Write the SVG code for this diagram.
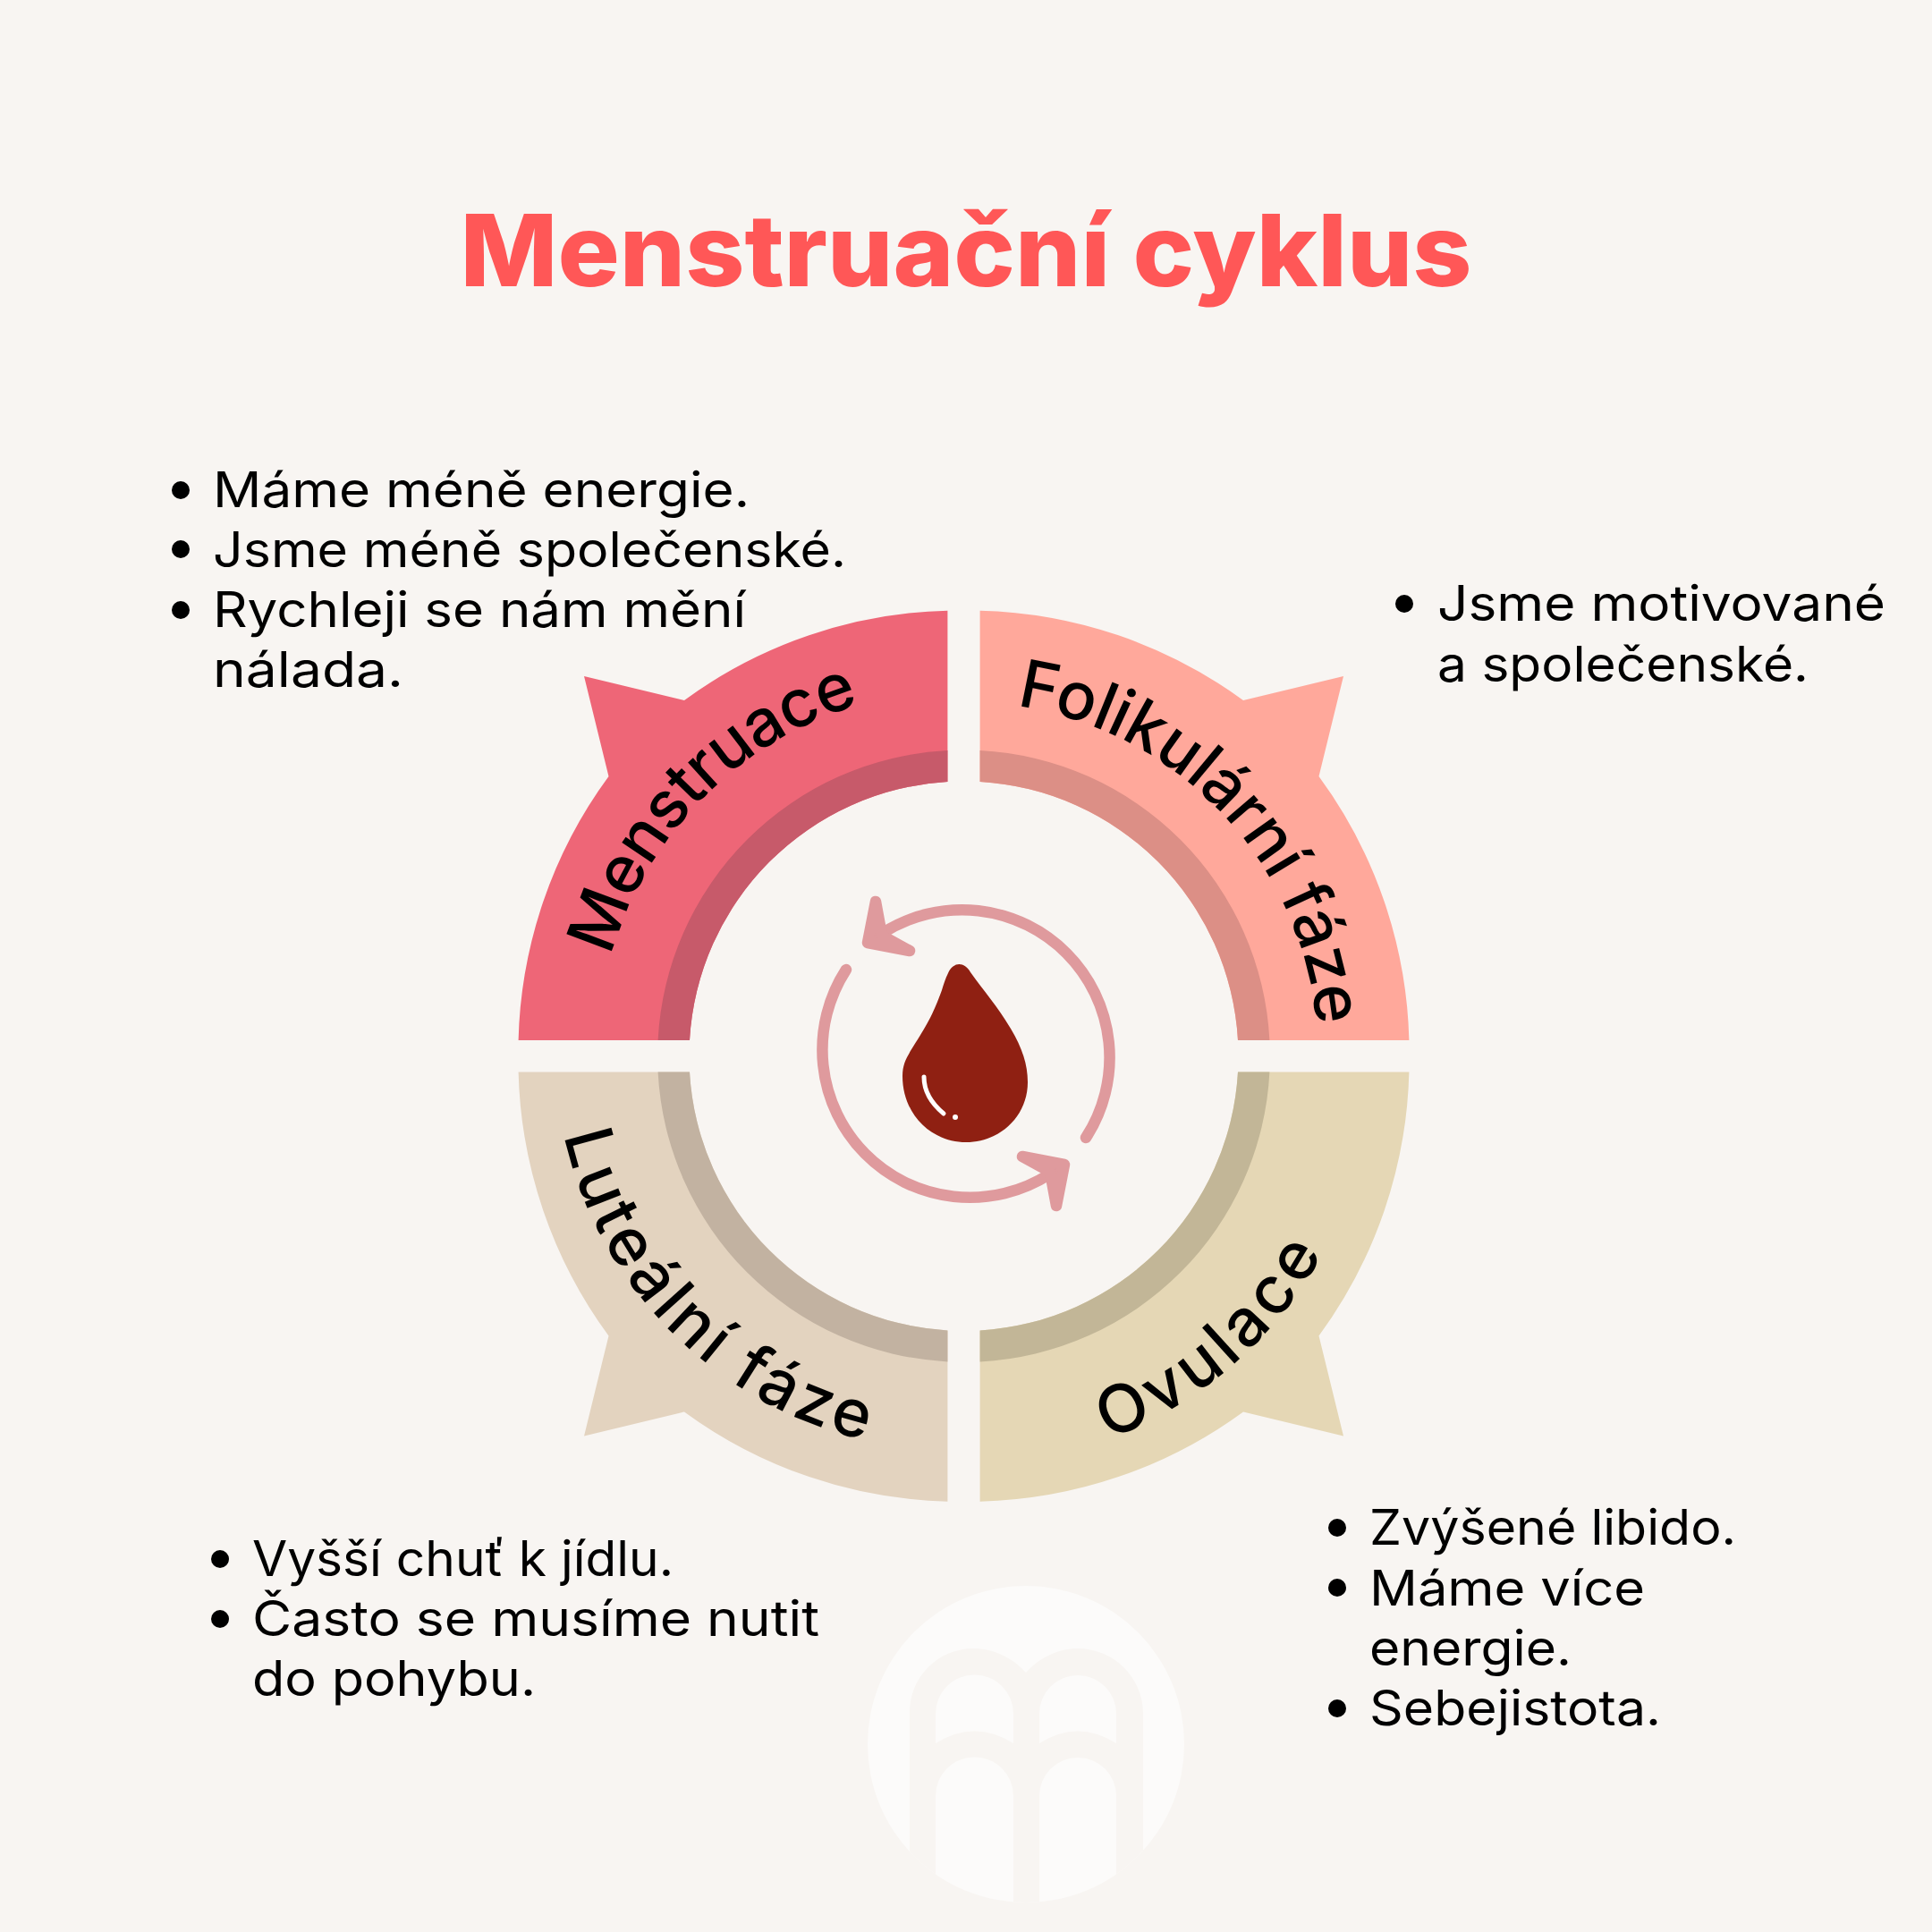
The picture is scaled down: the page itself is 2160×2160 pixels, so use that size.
<svg xmlns="http://www.w3.org/2000/svg" width="2160" height="2160" viewBox="0 0 2160 2160">
<style>
.b{font-family:"Inter","Open Sans","Liberation Sans",sans-serif;font-size:55px;fill:#000}
.l{font-family:"Inter","Open Sans","Liberation Sans",sans-serif;font-size:74px;font-weight:500;fill:#000}
.t{font-family:"Inter","Open Sans","Liberation Sans",sans-serif;font-size:112px;font-weight:800;fill:#FF5757}
</style>
<defs>
<path id="pm" d="M667.5 1180.7 A410 410 0 0 1 1077.5 770.7"/>
<path id="pf" d="M1077.5 784.7 A396 396 0 0 1 1473.5 1180.7"/>
<path id="po" d="M1077.5 1638.7 A458 458 0 0 0 1535.5 1180.7"/>
<path id="pl" d="M620 1172 A450 450 0 0 0 1070 1622"/>
<path id="seg" d="M1059.4 682.7 A520 520 0 0 0 765 783 L653 756 L680.5 868 A520 520 0 0 0 579.6 1163 H771 A307 307 0 0 1 1059.4 874 Z"/>
<path id="ring" d="M1059.4 839 A342 342 0 0 0 735.6 1163 H771 A307 307 0 0 1 1059.4 874 Z"/>
<g id="arr">
<path fill="none" d="M987 1043 A165 165 0 0 1 1214 1272"/>
<path fill="#DF9A9D" d="M979 1008 L970 1054 L1017 1063 L986 1046 Z"/>
</g>
<clipPath id="cc"><circle cx="1147" cy="1950" r="177"/></clipPath>
</defs>
<rect width="2160" height="2160" fill="#F8F5F2"/>
<g id="logo">
<circle cx="1147" cy="1950" r="177" fill="#FCFBFA"/>
<g clip-path="url(#cc)">
<path fill="#F8F5F2" d="M1017 2140 V1915 A71 71 0 0 1 1088 1843 C1110 1843 1132 1853 1147 1870 C1162 1853 1184 1843 1205 1843 A73 73 0 0 1 1278 1915 V2140 Z"/>
<g fill="#FCFBFA">
<path d="M1046 1916 A43.5 43.5 0 0 1 1133 1916 V1949 Q1089.5 1922 1046 1949 Z"/>
<path d="M1162 1916 A43 43 0 0 1 1248 1916 V1949 Q1205 1922 1162 1949 Z"/>
<path d="M1046 2008 A43.5 43.5 0 0 1 1133 2008 V2140 H1046 Z"/>
<path d="M1162 2008 A43 43 0 0 1 1248 2008 V2140 H1162 Z"/>
</g>
</g>
</g>
<g id="title"><text class="t" x="1080" y="320" text-anchor="middle" textLength="1131" lengthAdjust="spacingAndGlyphs">Menstruační cyklus</text></g>
<g id="menstruace">
<use href="#seg" fill="#EE6677"/>
<use href="#ring" fill="#C75A6A"/>
<text class="l" letter-spacing="-1"><textPath href="#pm" startOffset="113">Menstruace</textPath></text>
</g>
<g id="folikularni">
<use href="#seg" fill="#FFA89B" transform="matrix(-1 0 0 1 2155 0)"/>
<use href="#ring" fill="#DC8F86" transform="matrix(-1 0 0 1 2155 0)"/>
<text class="l" letter-spacing="-0.4"><textPath href="#pf" startOffset="59">Folikulární fáze</textPath></text>
</g>
<g id="ovulace">
<use href="#seg" fill="#E5D7B5" transform="matrix(-1 0 0 -1 2155 2361.4)"/>
<use href="#ring" fill="#C2B697" transform="matrix(-1 0 0 -1 2155 2361.4)"/>
<text class="l" letter-spacing="5.5"><textPath href="#po" startOffset="165">Ovulace</textPath></text>
</g>
<g id="lutealni">
<use href="#seg" fill="#E3D3BF" transform="matrix(1 0 0 -1 0 2361.4)"/>
<use href="#ring" fill="#C2B2A1" transform="matrix(1 0 0 -1 0 2361.4)"/>
<text class="l" letter-spacing="4.5"><textPath href="#pl" startOffset="98">Luteální fáze</textPath></text>
</g>
<g id="cycle" stroke="#DF9A9D" stroke-width="12.5" stroke-linecap="round" stroke-linejoin="round">
<use href="#arr"/>
<use href="#arr" transform="rotate(180 1080 1178)"/>
</g>
<g id="drop">
<path fill="#8F2012" d="M1060 1088 C1066 1075 1078 1075 1085 1087 C1100 1108 1115 1125 1130 1150 C1143 1172 1149 1190 1149 1210 C1149 1248 1118 1277 1080 1277 C1040 1277 1009 1245 1009 1203 C1009 1190 1013 1183 1021 1170 C1035 1148 1043 1135 1053 1107 C1055 1100 1057 1094 1060 1088 Z"/>
<path fill="none" stroke="#FFF" stroke-width="5" stroke-linecap="round" d="M1033 1204 C1033 1222 1043 1235 1055 1245"/>
<circle cx="1068" cy="1249" r="3" fill="#FFF"/>
</g>
<g id="note1">
<circle cx="202" cy="548" r="10"/><circle cx="202" cy="614" r="10"/><circle cx="202" cy="682" r="10"/>
<text class="b" lengthAdjust="spacingAndGlyphs" x="238" y="567" textLength="600">Máme méně energie.</text>
<text class="b" lengthAdjust="spacingAndGlyphs" x="238" y="634" textLength="708">Jsme méně společenské.</text>
<text class="b" lengthAdjust="spacingAndGlyphs" x="238" y="701" textLength="596">Rychleji se nám mění</text>
<text class="b" lengthAdjust="spacingAndGlyphs" x="238" y="768" textLength="213">nálada.</text>
</g>
<g id="note2">
<circle cx="1570" cy="675" r="10"/>
<text class="b" lengthAdjust="spacingAndGlyphs" x="1607" y="694" textLength="501">Jsme motivované</text>
<text class="b" lengthAdjust="spacingAndGlyphs" x="1607" y="762" textLength="415">a společenské.</text>
</g>
<g id="note3">
<circle cx="1495" cy="1708" r="10"/><circle cx="1495" cy="1775" r="10"/><circle cx="1495" cy="1910" r="10"/>
<text class="b" lengthAdjust="spacingAndGlyphs" x="1531" y="1727" textLength="410">Zvýšené libido.</text>
<text class="b" lengthAdjust="spacingAndGlyphs" x="1531" y="1795" textLength="308">Máme více</text>
<text class="b" lengthAdjust="spacingAndGlyphs" x="1531" y="1862" textLength="226">energie.</text>
<text class="b" lengthAdjust="spacingAndGlyphs" x="1531" y="1929" textLength="326">Sebejistota.</text>
</g>
<g id="note4">
<circle cx="246" cy="1743" r="10"/><circle cx="246" cy="1810" r="10"/>
<text class="b" lengthAdjust="spacingAndGlyphs" x="282" y="1762" textLength="471">Vyšší chuť k jídlu.</text>
<text class="b" lengthAdjust="spacingAndGlyphs" x="282" y="1829" textLength="634">Často se musíme nutit</text>
<text class="b" lengthAdjust="spacingAndGlyphs" x="282" y="1896" textLength="317">do pohybu.</text>
</g>
</svg>
